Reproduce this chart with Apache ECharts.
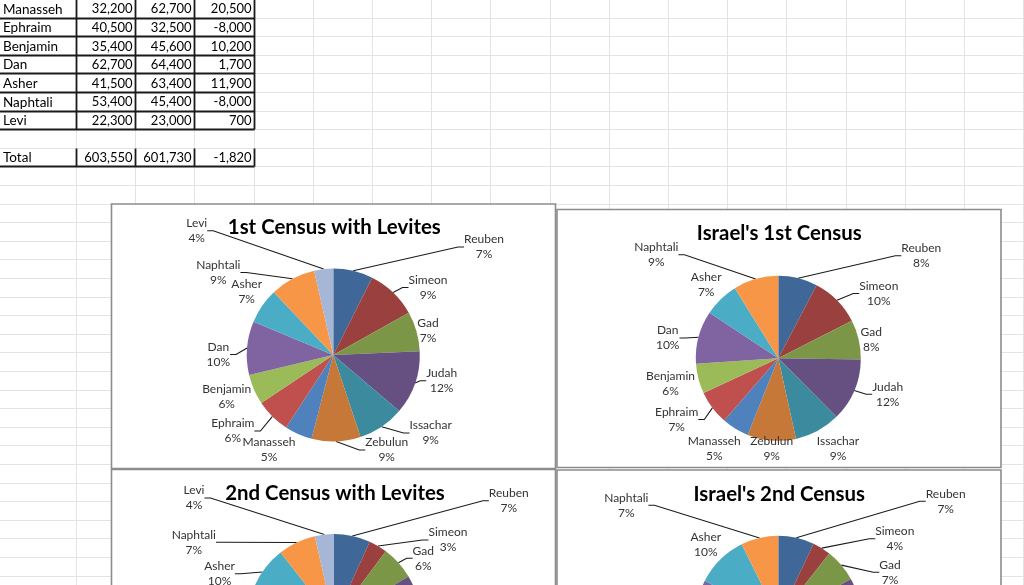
<!DOCTYPE html>
<html><head><meta charset="utf-8">
<script src="https://cdn.jsdelivr.net/npm/echarts@6/dist/echarts.min.js"></script>
<style>html,body{margin:0;padding:0;background:#fff;overflow:hidden}#c{width:1024px;height:585px}</style>
</head><body><div id="c"></div>
<script>
// ---------- data ----------
const tribes = ['Reuben','Simeon','Gad','Judah','Issachar','Zebulun','Manasseh','Ephraim','Benjamin','Dan','Asher','Naphtali'];
const census1 = [46500, 59300, 46650, 74600, 54400, 57400, 32200, 40500, 35400, 62700, 41500, 53400];
const census2 = [43730, 22200, 40500, 76500, 64300, 60500, 62700, 32500, 45600, 64400, 63400, 45400];
const leviCount = [22300, 23000];
const tableNames = ['Manasseh','Ephraim','Benjamin','Dan','Asher','Naphtali','Levi'];
const tableDiff = [20500, -8000, 10200, 1700, 11900, -8000, 700];
const totalRow = ['Total', 603550, 601730, -1820];
const chartTitles = ['1st Census with Levites', "Israel's 1st Census", '2nd Census with Levites', "Israel's 2nd Census"];

// ---------- layout / style ----------
const palette = ['#3f6797','#9a403e','#7c9647','#665082','#3c8a9e','#c67838','#4f81bd','#c0504d','#9bbb59','#8064a2','#4bacc6','#f79646','#a5b6d6'];
const pies = [
  {box:[111.5,204,444,264.5], c:[333.3,355], r:86.5, titleY:227, withLevi:true, values:census1, levi:leviCount[0],
   labels:[[150.7,-108],[94.7,-67.5],[94.7,-24],[108.4,25.8],[97.4,78],[53.4,95],[-64.3,95],[-100.5,76],[-106.6,41.3],[-115,-0.5],[-86.6,-63],[-115,-82.5],[-136.6,-124.2]],
   lines:[1,1,0,1,1,1,0,1,0,1,0,1,1]},
  {box:[557,209.5,444,258], c:[778.3,358.3], r:82.5, titleY:233.5, withLevi:false, values:census1,
   labels:[[143,-102.5],[100.5,-64.8],[93,-19.1],[109.4,35.9],[59.7,90.4],[-6.6,90.4],[-64,90.4],[-101.6,61.2],[-107.8,25.4],[-110.6,-20.3],[-72.1,-74.1],[-122,-103.6]],
   lines:[1,1,0,1,0,0,0,1,0,1,0,1]},
  {box:[111.5,469.5,444,200], c:[334,620.5], r:86.5, titleY:493, withLevi:true, values:census2, levi:leviCount[1],
   labels:[[174.8,-119.7],[114,-80.5],[89.3,-62.2],[108,10],[100,70],[55,98],[-60,98],[-100,76],[-110,40],[-115,0],[-114.5,-46.7],[-140.2,-78.3],[-140,-122.5]],
   lines:[1,1,1,1,1,1,0,1,0,1,1,1,1]},
  {box:[557,470,444,200], c:[778.3,618.3], r:82.5, titleY:494.5, withLevi:false, values:census2,
   labels:[[167.4,-117],[116.5,-79.5],[111.7,-46.1],[110,20],[60,92],[-6,92],[-64,92],[-100,62],[-108,26],[-110,-20],[-72.5,-74],[-152,-113.1]],
   lines:[1,1,1,1,0,0,0,1,0,1,0,1]}
];
const W = 1024, H = 585;
const colX = []; for (let i = 0; i <= 16; i++) colX.push(Math.round(76 + 59.2 * i) + 0.5);
const rowY = []; for (let k = 0; k <= 31; k++) rowY.push(Math.round(17.5 + 18.6 * k) + 0.5);
const FONT = 'Lato, "Open Sans", sans-serif';

const fmt = v => typeof v === 'number' ? v.toLocaleString('en-US') : v;
const g = [];
// spreadsheet gridlines
colX.forEach(x => g.push({type:'line', z:0, silent:true, shape:{x1:x,y1:0,x2:x,y2:H}, style:{stroke:'#e3e3e3', lineWidth:1}}));
rowY.forEach(y => g.push({type:'line', z:0, silent:true, shape:{x1:0,y1:y,x2:W,y2:y}, style:{stroke:'#e3e3e3', lineWidth:1}}));
// table borders
const tb = {stroke:'#1a1a1a', lineWidth:1.8};
for (let k = 0; k < 7; k++) g.push({type:'line', z:0.5, silent:true, shape:{x1:0,y1:rowY[k],x2:colX[3],y2:rowY[k]}, style:tb});
for (let i = 0; i < 4; i++) {
  g.push({type:'line', z:0.5, silent:true, shape:{x1:colX[i],y1:0,x2:colX[i],y2:rowY[6]}, style:tb});
  g.push({type:'line', z:0.5, silent:true, shape:{x1:colX[i],y1:rowY[7],x2:colX[i],y2:rowY[8]}, style:tb});
}
g.push({type:'line', z:0.5, silent:true, shape:{x1:0,y1:rowY[8],x2:colX[3],y2:rowY[8]}, style:tb});
// table text
function cellText(txt, col, rowCenter) {
  const right = col > 0;
  g.push({type:'text', z:0.6, silent:true, x: right ? colX[col] - 3 : 3, y: rowCenter,
    style:{text: fmt(txt), fill:'#000', fontSize: right ? 13 : 13.5, fontFamily:FONT, align: right ? 'right' : 'left', verticalAlign:'middle'}});
}
tableNames.forEach((n, k) => {
  const idx = tribes.indexOf(n);
  const v1 = idx >= 0 ? census1[idx] : leviCount[0];
  const v2 = idx >= 0 ? census2[idx] : leviCount[1];
  const cy = 17.5 + 18.6 * (k - 0.5) + 1;
  cellText(n, 0, cy); cellText(v1, 1, cy); cellText(v2, 2, cy); cellText(tableDiff[k], 3, cy);
});
const tcy = 17.5 + 18.6 * 7.5 + 1;
totalRow.forEach((v, i) => cellText(v, i, tcy));
// chart boxes + titles
pies.forEach((p, i) => {
  g.push({type:'rect', z:1, silent:true, shape:{x:p.box[0], y:p.box[1], width:p.box[2], height:p.box[3]},
    style:{fill:'#fff', stroke:'#8c8c8c', lineWidth:1.6}});
  g.push({type:'text', z:3, silent:true, x:p.c[0] + 1, y:p.titleY,
    style:{text: chartTitles[i], fill:'#000', fontSize:20.4, fontWeight:'bold', fontFamily:FONT, align:'center', verticalAlign:'middle'}});
});

const series = pies.map(p => {
  const names = p.withLevi ? tribes.concat(['Levi']) : tribes.slice();
  const vals = p.withLevi ? p.values.concat([p.levi]) : p.values.slice();
  return {
    type:'pie', z:2, center:[p.c[0], p.c[1]], radius:p.r, startAngle:90, clockwise:true,
    avoidLabelOverlap:false, silent:true, animation:false,
    data: names.map((n, j) => ({name:n, value:vals[j], itemStyle:{color:palette[j]}, labelLine:{show: !!p.lines[j]}})),
    itemStyle:{borderWidth:0},
    label:{show:true, position:'outside', formatter: q => q.name + '\n' + Math.round(q.percent) + '%',
      fontFamily:FONT, fontSize:12, lineHeight:15, color:'#333'},
    labelLine:{show:true, length:10, length2:6, lineStyle:{color:'#1a1a1a', width:1.1}},
    labelLayout: q => { const o = p.labels[q.dataIndex]; return {x:p.c[0] + o[0], y:p.c[1] + o[1], align:'center', verticalAlign:'middle'}; },
    emphasis:{disabled:true}
  };
});

const chart = echarts.init(document.getElementById('c'), null, {renderer:'canvas'});
chart.setOption({animation:false, backgroundColor:'#fff', graphic:{elements:g}, series:series});
</script></body></html>
